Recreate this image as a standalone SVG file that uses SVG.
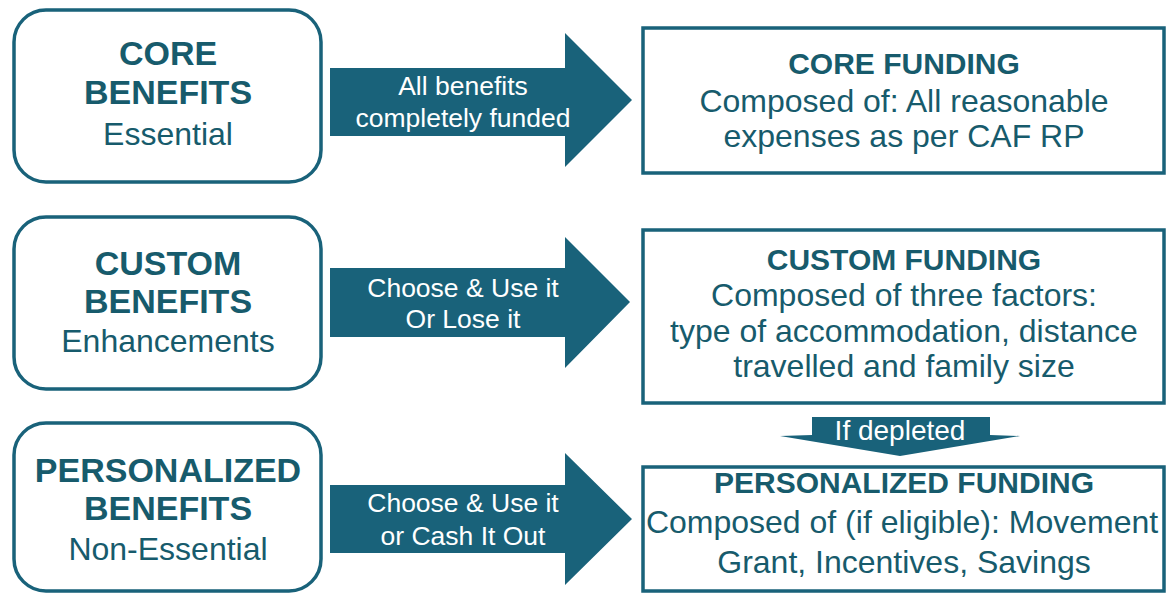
<svg xmlns="http://www.w3.org/2000/svg" width="1167" height="593" viewBox="0 0 1167 593">
<style>
.lbox{fill:#fff;stroke:#19627a;stroke-width:3.5}
.rbox{fill:#fff;stroke:#19627a;stroke-width:3.5}
.arrow{fill:#19627a}
.t{font-family:"Liberation Sans",Arial,sans-serif;fill:#175b6c;text-anchor:middle}
.lb{font-size:34px;font-weight:bold}
.lr{font-size:32px}
.rt{font-size:30px;font-weight:bold}
.rr{font-size:32px}
.at{font-family:"Liberation Sans",Arial,sans-serif;fill:#fff;text-anchor:middle;font-size:26.5px}
</style>
<rect width="1167" height="593" fill="#fff"/>
<g id="core-benefits">
<rect class="lbox" x="14" y="10" width="307" height="172" rx="32"/>
<text class="t lb" x="168" y="65">CORE</text>
<text class="t lb" x="168" y="104">BENEFITS</text>
<text class="t lr" x="168" y="145">Essential</text>
</g>
<g id="custom-benefits">
<rect class="lbox" x="14" y="217" width="307" height="172" rx="32"/>
<text class="t lb" x="168" y="275">CUSTOM</text>
<text class="t lb" x="168" y="313">BENEFITS</text>
<text class="t lr" x="168" y="352">Enhancements</text>
</g>
<g id="personalized-benefits">
<rect class="lbox" x="14" y="423" width="307" height="168" rx="32"/>
<text class="t lb" x="168" y="482">PERSONALIZED</text>
<text class="t lb" x="168" y="520">BENEFITS</text>
<text class="t lr" x="168" y="560">Non-Essential</text>
</g>
<g id="core-funding">
<rect class="rbox" x="643" y="28" width="521" height="145"/>
<text class="t rt" x="904" y="74">CORE FUNDING</text>
<text class="t rr" x="904" y="112">Composed of: All reasonable</text>
<text class="t rr" x="904" y="147">expenses as per CAF RP</text>
</g>
<g id="custom-funding">
<rect class="rbox" x="643" y="230" width="521" height="173"/>
<text class="t rt" x="904" y="270">CUSTOM FUNDING</text>
<text class="t rr" x="904" y="306">Composed of three factors:</text>
<text class="t rr" x="904" y="342">type of accommodation, distance</text>
<text class="t rr" x="904" y="377">travelled and family size</text>
</g>
<g id="personalized-funding">
<rect class="rbox" x="643" y="467" width="521" height="124"/>
<text class="t rt" x="904" y="493">PERSONALIZED FUNDING</text>
<text class="t rr" x="902" y="533">Composed of (if eligible): Movement</text>
<text class="t rr" x="904" y="573">Grant, Incentives, Savings</text>
</g>
<g id="connectors">
<polygon class="arrow" points="330,68 565,68 565,33 632,100 565,167 565,136 330,136"/>
<text class="at" x="463" y="95">All benefits</text>
<text class="at" x="463" y="127">completely funded</text>
<polygon class="arrow" points="330,268 565,268 565,237 630,302 565,368 565,337 330,337"/>
<text class="at" x="463" y="297">Choose &amp; Use it</text>
<text class="at" x="463" y="328">Or Lose it</text>
<polygon class="arrow" points="330,485 565,485 565,453 632,519 565,585 565,553 330,553"/>
<text class="at" x="463" y="512">Choose &amp; Use it</text>
<text class="at" x="463" y="545">or Cash It Out</text>
<polygon class="arrow" points="812,417 990,417 990,435 1020,436 900,456 780,436 812,435"/>
<text class="at" x="900" y="440" style="font-size:28px">If depleted</text>
</g>
</svg>
